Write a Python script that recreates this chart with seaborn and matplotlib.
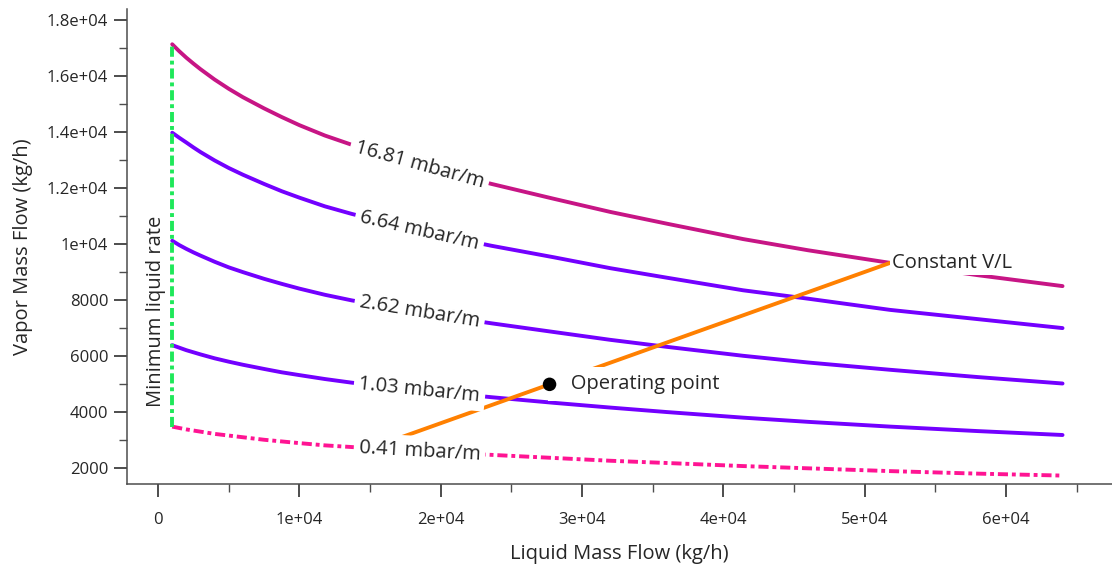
import numpy as np
import pandas as pd
import matplotlib
matplotlib.use("Agg")
import matplotlib.pyplot as plt
import seaborn as sns
from matplotlib.ticker import MultipleLocator, FixedLocator

# -----------------------------
# DATA
# -----------------------------
liquid_flow = [1000, 1500, 2000, 2500, 3000, 4000, 5000, 6000, 7500, 8750,
               10000, 11800, 13700, 15800, 18000, 20800, 23600,
               28000, 32000, 36000, 41400, 46000, 51800, 58000, 64000]

vapor_16_81 = [17140, 16890, 16660, 16450, 16250, 15880, 15550, 15250, 14850, 14540,
               14250, 13880, 13550, 13210, 12900, 12510, 12150,
               11620, 11150, 10730, 10180, 9780, 9330, 8890, 8500]
vapor_6_64 = [13980, 13800, 13630, 13455, 13290, 12990, 12720, 12480, 12150, 11890,
              11660, 11350, 11080, 10810, 10550, 10230, 9940,
              9530, 9140, 8800, 8350, 8050, 7650, 7320, 7000]
vapor_2_62 = [10120, 9965, 9830, 9705, 9590, 9370, 9170, 9000, 8760, 8580,
              8410, 8190, 7990, 7800, 7610, 7380, 7170,
              6860, 6580, 6330, 6010, 5770, 5510, 5250, 5020]
vapor_1_03 = [6390, 6300, 6210, 6135, 6060, 5920, 5800, 5690, 5540, 5420,
              5320, 5180, 5050, 4930, 4810, 4670, 4530,
              4330, 4160, 4000, 3800, 3650, 3480, 3320, 3180]
vapor_0_41 = [3480, 3430, 3380, 3340, 3300, 3220, 3160, 3100, 3010, 2950,
              2890, 2810, 2750, 2680, 2620, 2540, 2470,
              2360, 2260, 2180, 2070, 1990, 1890, 1800, 1730]

curve_labels = ["16.81 mbar/m", "6.64 mbar/m", "2.62 mbar/m", "1.03 mbar/m", "0.41 mbar/m"]
curve_colors = ["#c71585", "#7300ff", "#7300ff", "#7300ff", "#ff1493"]
curve_dashed = [False, False, False, False, True]

min_liquid = 1000

# constant V/L line (from lowest curve to highest curve)
vl_liquid = [15050, 51800]
vl_vapor = [2710, 9330]

op_liquid = 27700
op_vapor = 4990

x_ticks = [0, 10000, 20000, 30000, 40000, 50000, 60000]
x_tick_labels = ["0", "1e+04", "2e+04", "3e+04", "4e+04", "5e+04", "6e+04"]
y_ticks = [2000, 4000, 6000, 8000, 10000, 12000, 14000, 16000, 18000]
y_tick_labels = ["2000", "4000", "6000", "8000", "1e+04", "1.2e+04", "1.4e+04", "1.6e+04", "1.8e+04"]

# -----------------------------
# STYLE
# -----------------------------
sns.set_theme(style="ticks")
plt.rcParams["font.family"] = ["Open Sans", "DejaVu Sans"]
TXT = "#262626"
AXC = "#4d4d4d"
LW = 2.8

fig = plt.figure(figsize=(11.12, 5.7), dpi=100)
ax = fig.add_axes([0.1142, 0.1509, 0.8858, 0.8333])
ax.set_xlim(-2200, 67500)
ax.set_ylim(1430, 18400)

curves = [vapor_16_81, vapor_6_64, vapor_2_62, vapor_1_03, vapor_0_41]
df = pd.DataFrame({
    "Liquid": np.tile(liquid_flow, len(curves)),
    "Vapor": np.concatenate(curves),
    "curve": np.repeat(curve_labels, len(liquid_flow)),
})

for label, color, dashed in zip(curve_labels, curve_colors, curve_dashed):
    sub = df[df["curve"] == label]
    sns.lineplot(data=sub, x="Liquid", y="Vapor", ax=ax, color=color,
                 lw=LW, sort=False, estimator=None, zorder=2,
                 solid_joinstyle="round")
    if dashed:
        ax.lines[-1].set_dashes([2.6, 1, 1, 1])

# minimum liquid rate line
ax.plot([min_liquid, min_liquid], [vapor_0_41[0], vapor_16_81[0]],
        color="#1fe85a", lw=LW, dashes=[2.6, 1, 1, 1], zorder=2)

# constant V/L line
sns.lineplot(x=vl_liquid, y=vl_vapor, ax=ax, color="#ff8000", lw=LW, zorder=3)

# -----------------------------
# CURVE LABELS
# -----------------------------
def label_angle(xs, ys, x0):
    x1, x2 = x0 - 1500, x0 + 1500
    p1 = ax.transData.transform((x1, np.interp(x1, xs, ys)))
    p2 = ax.transData.transform((x2, np.interp(x2, xs, ys)))
    return np.degrees(np.arctan2(p2[1] - p1[1], p2[0] - p1[0]))

label_x = 18500
box = dict(boxstyle="square,pad=0.25", fc="white", ec="none")
for label, ys in zip(curve_labels, curves):
    ang = label_angle(liquid_flow, ys, label_x)
    ax.text(label_x, np.interp(label_x, liquid_flow, ys), label,
            rotation=ang, rotation_mode="anchor", ha="center", va="center",
            fontsize=14.5, color=TXT, bbox=box, zorder=4)

ax.text(-150, 7600, "Minimum liquid rate", rotation=90, ha="center",
        va="center", fontsize=14.5, color=TXT, zorder=4)

ax.annotate("Constant V/L", xy=(vl_liquid[1], vl_vapor[1]), xytext=(1, 0),
            textcoords="offset points", ha="left", va="center",
            fontsize=14.5, color=TXT, zorder=4,
            bbox=dict(boxstyle="square,pad=0.1", fc="white", ec="none"))

ax.annotate("   Operating point", xy=(op_liquid, op_vapor), xytext=(4, 0),
            textcoords="offset points", ha="left", va="center",
            fontsize=14.5, color=TXT, zorder=4,
            bbox=dict(boxstyle="square,pad=0.35", fc="white", ec="none"))
sns.scatterplot(x=[op_liquid], y=[op_vapor], ax=ax, s=95, color="black",
                edgecolor="none", zorder=6)

# -----------------------------
# AXES
# -----------------------------
ax.xaxis.set_major_locator(FixedLocator(x_ticks))
ax.set_xticklabels(x_tick_labels)
ax.yaxis.set_major_locator(FixedLocator(y_ticks))
ax.set_yticklabels(y_tick_labels)
ax.xaxis.set_minor_locator(MultipleLocator(5000))
ax.yaxis.set_minor_locator(MultipleLocator(1000))

ax.tick_params(axis="both", which="major", length=9.5, width=1.4, color=AXC,
               labelsize=12, labelcolor=TXT, direction="out")
ax.tick_params(axis="both", which="minor", length=5.8, width=1.0, color=AXC,
               direction="out")
ax.tick_params(axis="x", which="major", pad=11)
ax.tick_params(axis="y", which="major", pad=4)

sns.despine(ax=ax, top=True, right=True)
for side in ["left", "bottom"]:
    ax.spines[side].set_color(AXC)
    ax.spines[side].set_linewidth(1.1)

ax.set_xlabel("Liquid Mass Flow (kg/h)", fontsize=14.5, color=TXT)
ax.set_ylabel("Vapor Mass Flow (kg/h)", fontsize=14.5, color=TXT)
ax.xaxis.set_label_coords(0.5, -0.126)
ax.yaxis.set_label_coords(-0.0954, 0.5)
ax.grid(False)

fig.savefig("out.png", dpi=100)
